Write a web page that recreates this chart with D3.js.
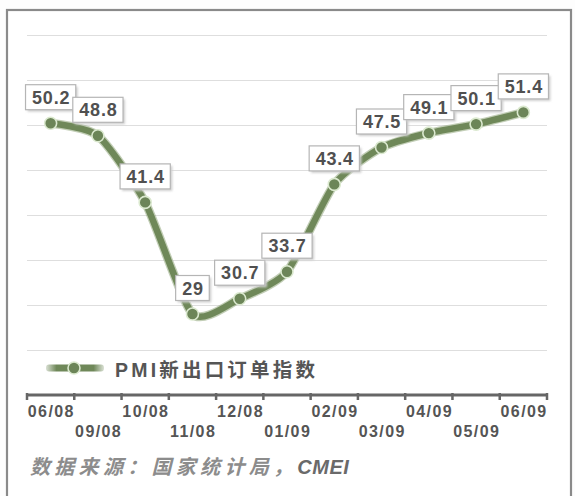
<!DOCTYPE html>
<html>
<head>
<meta charset="utf-8">
<script src="https://cdn.jsdelivr.net/npm/d3@7/dist/d3.min.js"></script>
<style>
  html,body{margin:0;padding:0;background:#fdfdfd;}
  svg{display:block;}
</style>
</head>
<body>
<svg id="chart" width="575" height="496"></svg>
<script>
const categories = ["06/08","09/08","10/08","11/08","12/08","01/09","02/09","03/09","04/09","05/09","06/09"];
const values = [50.2,48.8,41.4,29,30.7,33.7,43.4,47.5,49.1,50.1,51.4];
const gridTicks = [25,30,35,40,45,50,55,60];
const seriesName = "PMI新出口订单指数";
const sourceCn = "数据来源：国家统计局，";
const sourceEn = "CMEI";

const svg = d3.select("#chart");
const W = 575, H = 496;

const defs = svg.append("defs");
const sblur = defs.append("filter").attr("id","shadowblur").attr("x","-20%").attr("y","-50%").attr("width","140%").attr("height","200%");
sblur.append("feGaussianBlur").attr("stdDeviation",1.2);
const grad = defs.append("linearGradient").attr("id","legfade").attr("x1","0").attr("x2","1").attr("y1","0").attr("y2","0");
[[0,0.25],[0.18,1],[0.82,1],[1,0.25]].forEach(([o,a])=>{
  grad.append("stop").attr("offset",o).attr("stop-color","#6f8859").attr("stop-opacity",a);
});

// frame
svg.append("rect").attr("x",0).attr("y",0).attr("width",W).attr("height",H).attr("fill","#fdfdfd");
svg.append("rect").attr("x",7).attr("y",10).attr("width",564).attr("height",500)
  .attr("fill","#ffffff").attr("stroke","#8a8a8a").attr("stroke-width",2.2);

const x = d3.scaleBand().domain(categories).range([27,547]).padding(0);
const y = d3.scaleLinear().domain([20,60]).range([395,35]);

// gridlines
svg.append("g").selectAll("line").data(gridTicks).join("line")
  .attr("x1",27).attr("x2",547)
  .attr("y1",d=>Math.round(y(d))+0.5).attr("y2",d=>Math.round(y(d))+0.5)
  .attr("stroke","#dedede").attr("stroke-width",1.2);

// axis
const axisY = y(20);
const bounds = categories.map(c=>x(c)).concat([x.range()[1]]);
const ax = svg.append("g");
ax.append("line").attr("x1",26).attr("x2",548).attr("y1",axisY).attr("y2",axisY)
  .attr("stroke","#666").attr("stroke-width",3);
ax.selectAll("line.tick").data(bounds).join("line").attr("class","tick")
  .attr("x1",d=>d).attr("x2",d=>d).attr("y1",axisY-2).attr("y2",axisY+5)
  .attr("stroke","#666").attr("stroke-width",2.5);
ax.selectAll("text").data(categories).join("text")
  .attr("x",d=>x(d)+x.bandwidth()/2+0.7)
  .attr("y",(d,i)=> i%2===0 ? 417 : 437)
  .attr("text-anchor","middle")
  .attr("font-family","Arial, 'Liberation Sans', sans-serif")
  .attr("font-weight","bold").attr("font-size",16).attr("letter-spacing","1.4px")
  .attr("fill","#555")
  .text(d=>d);

// line
const px = d=>x(d)+x.bandwidth()/2;
const pts = categories.map((c,i)=>[px(c), y(values[i])]);
const line = d3.line().curve(d3.curveCardinal.tension(0.35));
svg.append("path").attr("d",line(pts)).attr("fill","none")
  .attr("stroke","#9aae86").attr("stroke-width",9).attr("stroke-linejoin","round").attr("opacity",0.6);
svg.append("path").attr("d",line(pts)).attr("fill","none")
  .attr("stroke","#6f8859").attr("stroke-width",6.5).attr("stroke-linejoin","round");

svg.append("g").selectAll("circle").data(pts).join("circle")
  .attr("cx",d=>d[0]).attr("cy",d=>d[1]).attr("r",6)
  .attr("fill","#6c8558").attr("stroke","#dbe9cf").attr("stroke-width",1.6);

// labels
const lg = svg.append("g");
categories.forEach((c,i)=>{
  const cx = px(c), cy = y(values[i]) - 26;
  const g = lg.append("g");
  const shadow = g.append("rect");
  const box = g.append("rect");
  const t = g.append("text").attr("x",cx+0.5).attr("y",cy+6.5)
    .attr("text-anchor","middle")
    .attr("font-family","Arial, 'Liberation Sans', sans-serif")
    .attr("font-weight","bold").attr("font-size",18).attr("letter-spacing","0.8px")
    .attr("fill","#505050")
    .text(String(values[i]));
  const w = t.node().getComputedTextLength() + 12;
  const h = 25;
  shadow.attr("x",cx-w/2+2).attr("y",cy-h/2+2).attr("width",w).attr("height",h)
    .attr("fill","#cfcfcf").attr("filter","url(#shadowblur)");
  box.attr("x",cx-w/2).attr("y",cy-h/2).attr("width",w).attr("height",h)
    .attr("fill","#ffffff").attr("stroke","#b5b5b5").attr("stroke-width",1.2);
});

// legend
const leg = svg.append("g");
leg.append("rect").attr("x",46).attr("y",364.5).attr("width",58).attr("height",7)
  .attr("rx",3).attr("fill","url(#legfade)");
leg.append("circle").attr("cx",74).attr("cy",368).attr("r",6)
  .attr("fill","#6c8558").attr("stroke","#dbe9cf").attr("stroke-width",1.6);
leg.append("text").attr("x",115).attr("y",377)
  .attr("font-family","Arial, 'Noto Sans CJK SC', sans-serif")
  .attr("font-weight","bold").attr("font-size",19.5).attr("letter-spacing","3.2px")
  .attr("fill","#555")
  .text(seriesName);

// source
const src = svg.append("text").attr("x",30).attr("y",474)
  .attr("font-family","Arial, 'Noto Sans CJK SC', sans-serif")
  .attr("font-style","italic").attr("font-size",20).attr("letter-spacing","4.3px");
src.append("tspan").attr("fill","#8c8c8c").attr("font-weight","bold").text(sourceCn);
src.append("tspan").attr("fill","#6a6a6a").attr("font-weight","bold").attr("letter-spacing","0.5px").text(sourceEn);
</script>
</body>
</html>
